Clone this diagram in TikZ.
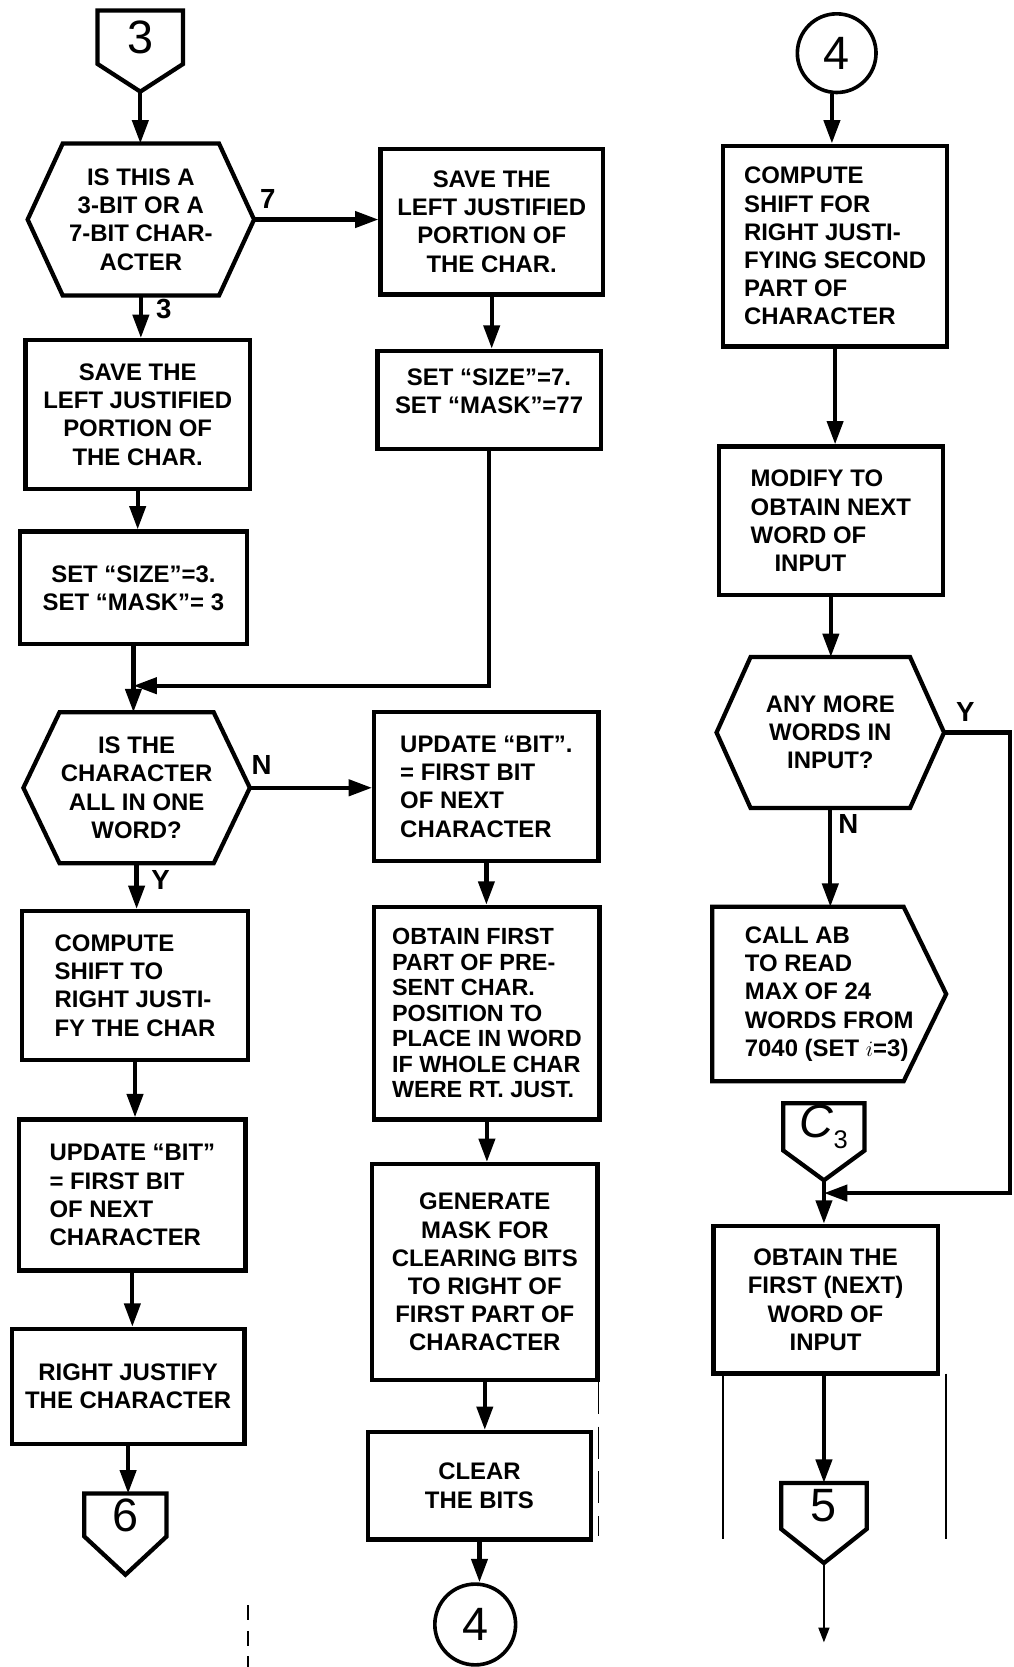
\documentclass[tikz,border=0pt]{standalone}
\usepackage{fontspec}
\setmainfont{Liberation Sans}
\usetikzlibrary{arrows.meta,calc}

\newcommand\lettering{\fontsize{22.5}{26.5}\selectfont\bfseries}
\newcommand\branchfont{\fontsize{26}{26}\selectfont\bfseries}
\newcommand\bignum{\fontsize{44}{44}\selectfont}

% hexagonal decision outline around a (borderless) node
\newcommand\hexoutline[2]{%
  \draw[line] ($(#1.north west)+(#2,0)$) -- ($(#1.north east)+(-#2,0)$) -- (#1.east)
    -- ($(#1.south east)+(-#2,0)$) -- ($(#1.south west)+(#2,0)$) -- (#1.west) -- cycle;}
% off-page connector: rectangle with a downward point
\newcommand\offpageoutline[2]{%
  \coordinate (#1-tip) at ($(#1.south)+(0,#2)$);
  \draw[line] (#1.north west) -- (#1.north east) -- (#1.south east) -- (#1-tip)
    -- (#1.south west) -- cycle;}

\begin{document}
\begin{tikzpicture}[x=1pt,y=-1pt,
  line/.style={line width=4pt, line join=miter},
  flow/.style={line, -{Triangle[length=22pt,width=15pt]}},
  box/.style 2 args={draw, line width=4pt, minimum width=#1pt, minimum height=#2pt,
    inner sep=0pt, font=\lettering, align=center},
  bare/.style 2 args={box={#1}{#2}, draw=none},
  offpage/.style 2 args={draw=none, minimum width=#1pt, minimum height=#2pt,
    inner sep=0pt, font=\bignum},
  conn/.style={draw, circle, line width=3.4pt, minimum size=#1pt, inner sep=0pt, font=\bignum},
  lbl/.style={font=\branchfont, inner sep=0pt},
  scan/.style={line width=1.6pt}
]
\useasboundingbox (0,0) rectangle (953,1568);

% ---------------- left column ----------------
\node[offpage={80}{50}] (p3) at (132,35) {3};
\offpageoutline{p3}{26}

\node[bare={209}{139}] (q1) at (132.5,206.5) {IS THIS A\\3-BIT OR A\\7-BIT CHAR-\\ACTER};
\hexoutline{q1}{33}

\node[box={211}{140}] (l1) at (129.5,390) {SAVE THE\\LEFT JUSTIFIED\\PORTION OF\\THE CHAR.};
\node[box={213}{106}] (l2) at (125.5,553) {SET ``SIZE''=3.\\SET ``MASK''= 3};

\node[bare={209}{138}] (q2) at (128.5,741) {IS THE\\CHARACTER\\ALL IN ONE\\WORD?};
\hexoutline{q2}{34}

\node[box={212}{140}, align=left] (l3) at (127,927) {COMPUTE\\SHIFT TO\\RIGHT JUSTI-\\FY THE CHAR};
\node[box={213}{142}, align=left] (l4) at (124.5,1124) {UPDATE ``BIT''\\= FIRST BIT\\OF NEXT\\CHARACTER};
\node[box={219}{108}] (l5) at (120.5,1304) {RIGHT JUSTIFY\\THE CHARACTER};

\node[offpage={77}{40}] (p6) at (118,1425) {6};
\offpageoutline{p6}{36}

% ---------------- middle column ----------------
\node[box={209}{137}] (r1) at (462.5,208.5) {SAVE THE\\LEFT JUSTIFIED\\PORTION OF\\THE CHAR.};
\node[box={210}{92}] (r2) at (460,376) {SET ``SIZE''=7.\\SET ``MASK''=77\\[-10pt]\mbox{}};

\node[box={211}{140}, align=left] (m1) at (457.5,740) {UPDATE ``BIT''.\\= FIRST BIT\\OF NEXT\\CHARACTER};
\node[box={212}{200}, align=left, font=\fontsize{22}{24}\selectfont\bfseries] (m2) at (458,953)
  {OBTAIN FIRST\\PART OF PRE-\\SENT CHAR.\\POSITION TO\\PLACE IN WORD\\IF WHOLE CHAR\\WERE RT. JUST.};
\node[box={212}{203}] (m3) at (456,1196.5) {GENERATE\\MASK FOR\\CLEARING BITS\\TO RIGHT OF\\FIRST PART OF\\CHARACTER};
\node[box={210}{101}] (m4) at (451,1397.5) {CLEAR\\THE BITS};
\node[conn=76] (c4b) at (447,1528) {4};

% ---------------- right column ----------------
\node[conn=74] (c4t) at (787,50) {4};
\node[box={211}{189}, align=left] (r3) at (785.5,231.5)
  {COMPUTE\\SHIFT FOR\\RIGHT JUSTI-\\FYING SECOND\\PART OF\\CHARACTER};
\node[box={211}{140}, align=left] (r4) at (781.5,490) {MODIFY TO\\OBTAIN NEXT\\WORD OF\\\quad INPUT};

\node[bare={210}{138}] (q3) at (781,689) {ANY MORE\\WORDS IN\\INPUT?};
\hexoutline{q3}{32}

\node[bare={216}{160}, align=left] (r5) at (780,935)
  {CALL AB\\TO READ\\MAX OF 24\\WORDS FROM\\7040 (SET \(i\)=3)};
\draw[line] (r5.north west) -- ($(r5.north east)+(-40,0)$) -- (r5.east)
  -- ($(r5.south east)+(-40,0)$) -- (r5.south west) -- cycle;

\node[offpage={76}{44}] (c3) at (775,1060) {{\itshape C}\raisebox{-0.25em}{\fontsize{24}{24}\selectfont 3}};
\offpageoutline{c3}{28}

\node[box={211}{139}] (r6) at (776.5,1222.5) {OBTAIN THE\\FIRST (NEXT)\\WORD OF\\INPUT};

\node[offpage={80}{43}] (p5) at (775,1416.5) {5};
\offpageoutline{p5}{32}
\coordinate (out5) at (775,1545);

% ---------------- connectors ----------------
\draw[flow] (p3-tip) -- (p3-tip |- q1.north);
\draw[flow] (q1.east) -- (q1.east -| r1.west);
\node[lbl] (l7) at (252,187) {7};
\draw[flow] (q1.south) -- (q1.south |- l1.north);
\node[lbl] (l3b) at (154,291) {3};
\draw[flow] (l1.south) -- (l1.south |- l2.north);
\draw[flow] (r1.south) -- (r1.south |- r2.north);

\path (l2.south) ++(0,37) coordinate (j1);
\draw[flow] (r2.south) |- (j1);
\draw[flow] (l2.south) -- (l2.south |- q2.north);

\draw[flow] (q2.east) -- (q2.east -| m1.west);
\node[lbl] (ln) at (246,720) {N};
\draw[flow] (q2.south) -- (q2.south |- l3.north);
\node[lbl] (ly) at (151,828) {Y};
\draw[flow] (l3.south) -- (l3.south |- l4.north);
\draw[flow] (l4.south) -- (l4.south |- l5.north);
\draw[flow] (l5.south) -- (l5.south |- p6.north);

\draw[flow] (m1.south) -- (m1.south |- m2.north);
\draw[flow] (m2.south) -- (m2.south |- m3.north);
\draw[flow] (m3.south) -- (m3.south |- m4.north);
\draw[flow] (m4.south) -- (m4.south |- c4b.north);

\draw[flow] (c4t.south -| r3.north) ++(-3,0) -- ($(r3.north)+(-3,0)$);
\draw[flow] (r3.south) -- (r3.south |- r4.north);
\draw[flow] (r4.south) -- (r4.south |- q3.north);
\draw[flow] (q3.south) -- (q3.south |- r5.north);
\node[lbl] (ln2) at (798,775) {N};

\coordinate (edge) at (950,0);
\path (c3-tip) ++(0,12) coordinate (j3);
\draw[flow] (q3.east) -- (q3.east -| edge) -- (edge |- j3) -- (j3);
\node[lbl] (ly2) at (908,670) {Y};
\draw[flow] (c3-tip) -- (c3-tip |- r6.north);
\draw[flow] (r6.south -| p5) -- (p5.north);
\draw[line, line width=2.4pt, -{Triangle[length=14pt,width=10pt]}] (p5-tip) -- (out5);

% faint ruling lines along the lower edge of the sheet
\draw[scan] (680,1292) -- (680,1448);
\draw[scan] (890,1292) -- (890,1448);
\draw[scan, dash pattern=on 30pt off 12pt] (563,1300) -- (563,1445);
\draw[scan, dash pattern=on 14pt off 10pt] (233,1510) -- (233,1568);
\end{tikzpicture}
\end{document}
